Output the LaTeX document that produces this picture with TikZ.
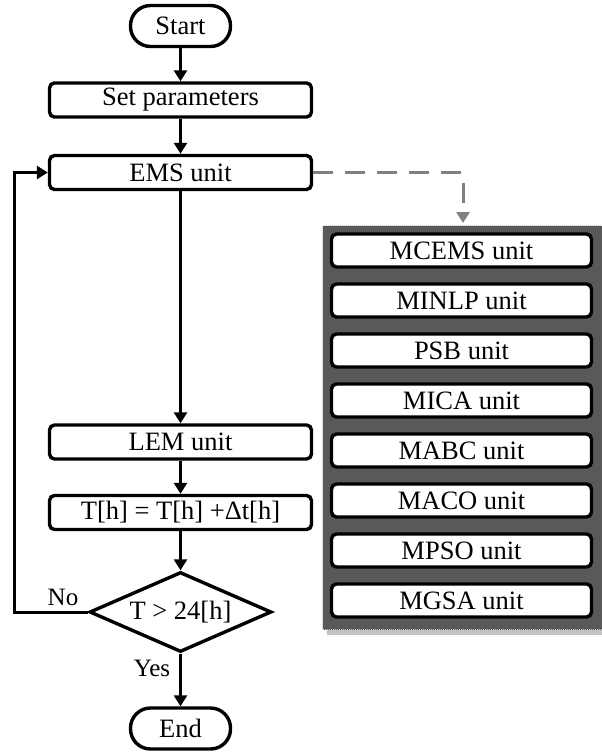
\documentclass[tikz,border=0pt]{standalone}
\usepackage{fontspec}
\setmainfont{Liberation Serif}
\usetikzlibrary{shapes.geometric,arrows.meta}
\definecolor{panelgray}{HTML}{595959}
\definecolor{shadowgray}{HTML}{C4C4C4}
\definecolor{dashgray}{HTML}{808080}
\tikzset{
  every node/.style={font=\fontsize{26.5}{31}\selectfont, inner sep=0pt},
  procbox/.style={draw, line width=3.4pt, rounded corners=5pt, fill=white,
     minimum width=262pt, minimum height=34pt},
  unitbox/.style={draw, line width=3.4pt, rounded corners=5pt, fill=white,
     minimum width=260pt, minimum height=33pt},
  termbox/.style={draw, line width=3.4pt, rounded corners=20pt, fill=white,
     minimum width=100pt, minimum height=41pt},
  decbox/.style={draw, diamond, line width=3.4pt, fill=white,
     minimum width=182pt, minimum height=80pt, aspect=2.25},
  flow/.style={line width=3pt, -{Triangle[length=11pt,width=13pt]}},
  dashflow/.style={line width=3pt, dashgray, dash pattern=on 20pt off 12pt,
     -{Triangle[length=11pt,width=13pt]}},
  lbl/.style={font=\fontsize{25}{29}\selectfont}
}
\begin{document}
\begin{tikzpicture}[x=1pt,y=-1pt]
\useasboundingbox (0,0) rectangle (602,755);
% panel with shadow
\fill[shadowgray] (327,231) rectangle (610,635);
\node[draw=shadowgray, densely dotted, line width=1pt, fill=panelgray, minimum width=290pt, minimum height=404pt,
  anchor=north west] (panel) at (322,225) {};
% units
\node[unitbox] (u1) at (461.5,250.5) {MCEMS unit};
\node[unitbox] (u2) at (461.5,300.5) {MINLP unit};
\node[unitbox] (u3) at (461.5,350.5) {PSB unit};
\node[unitbox] (u4) at (461.5,400.5) {MICA unit};
\node[unitbox] (u5) at (461.5,450.5) {MABC unit};
\node[unitbox] (u6) at (461.5,500.5) {MACO unit};
\node[unitbox] (u7) at (461.5,550.5) {MPSO unit};
\node[unitbox] (u8) at (461.5,600.5) {MGSA unit};
% main flow
\node[termbox] (start) at (180.5,26) {Start};
\node[procbox] (set) at (180.5,100) {Set parameters};
\node[procbox] (ems) at (180.5,172.5) {EMS unit};
\node[procbox] (lem) at (180.5,442) {LEM unit};
\node[procbox] (th) at (180.5,512.5) {T[h] = T[h] +Δt[h]};
\node[decbox] (dec) at (180.5,612) {T > 24[h]};
\node[termbox] (end) at (180.5,728.5) {End};
\coordinate (lp) at (14,612);
\coordinate (dt) at (463,223);
\draw[flow] (start) -- (set);
\draw[flow] (set) -- (ems);
\draw[flow] (ems) -- (lem);
\draw[flow] (lem) -- (th);
\draw[flow] (th) -- (dec);
\draw[flow] (dec) -- (end);
\draw[flow] (dec.west) -- (lp) |- (ems.west);
\draw[dashflow] (ems.east) -| (dt);
\node[lbl] (no) at (63,597) {No};
\node[lbl] (yes) at (152,668) {Yes};
\end{tikzpicture}
\end{document}
